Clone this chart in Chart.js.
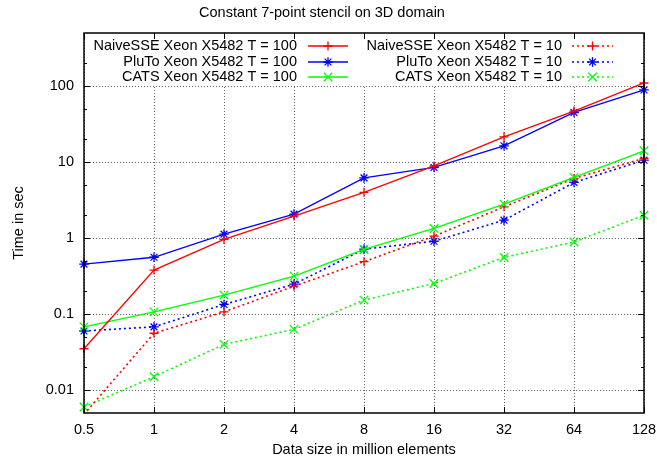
<!DOCTYPE html>
<html>
<head>
<meta charset="utf-8">
<script src="https://cdn.jsdelivr.net/npm/chart.js@4/dist/chart.umd.min.js"></script>
<style>html,body{margin:0;padding:0;background:#fff;}canvas{display:block;}</style>
</head>
<body>
<canvas id="c" width="657" height="460"></canvas>
<script>
const categories = ['0.5', '1', '2', '4', '8', '16', '32', '64', '128'];
const naiveT100 = [0.035, 0.38, 0.96, 1.95, 4.0, 8.9, 21.5, 47, 110];
const plutoT100 = [0.455, 0.56, 1.13, 2.07, 6.2, 8.5, 16.4, 45, 89];
const catsT100  = [0.068, 0.107, 0.178, 0.316, 0.71, 1.34, 2.8, 6.3, 14.1];
const naiveT10  = [0.0048, 0.056, 0.107, 0.233, 0.49, 1.06, 2.58, 6.1, 11.2];
const plutoT10  = [0.060, 0.068, 0.134, 0.248, 0.716, 0.91, 1.72, 5.4, 10.6];
const catsT10   = [0.006, 0.015, 0.040, 0.063, 0.153, 0.253, 0.557, 0.89, 2.0];
const yTicks = [0.01, 0.1, 1, 10, 100];
const yMinorTicks = [0.02, 0.05, 0.2, 0.5, 2, 5, 20, 50, 200];

const FONT = { family: "'Liberation Sans', Arial, Helvetica, sans-serif", size: 14.5 };
const RED = '#ff0000', BLUE = '#0000ff', GREEN = '#00ff00';
const DOT = [2, 3];

function ds(label, data, color, style, radius, dotted) {
  return {
    label, data,
    borderColor: color, backgroundColor: color,
    pointStyle: style, pointRadius: radius, pointHoverRadius: radius,
    pointBorderColor: color, pointBorderWidth: 1.3,
    borderWidth: dotted ? 1.6 : 1.3,
    borderDash: dotted ? DOT : [],
    tension: 0, fill: false
  };
}

const framePlugin = {
  id: 'gnuframe',
  beforeDatasetsDraw(chart) {
    const { ctx, chartArea: a } = chart;
    ctx.save();
    ctx.fillStyle = '#fff';
    ctx.fillRect(a.left + 1, a.top + 1, 540, 51);
    ctx.restore();
  },
  afterDatasetsDraw(chart) {
    const { ctx, chartArea: a } = chart;
    const xs = chart.scales.x, ys = chart.scales.y;
    ctx.save();
    // key
    const cols = [
      { tr: a.left + 213, l0: a.left + 224, l1: a.left + 264 },
      { tr: a.left + 478, l0: a.left + 488, l1: a.left + 529 }
    ];
    const rows = [a.top + 13, a.top + 29, a.top + 44];
    ctx.font = FONT.size + 'px ' + FONT.family;
    ctx.textAlign = 'right';
    ctx.textBaseline = 'middle';
    chart.data.datasets.forEach((d, i) => {
      const c = cols[Math.floor(i / 3)], y = rows[i % 3];
      ctx.fillStyle = '#000';
      ctx.fillText(d.label, c.tr, y);
      ctx.strokeStyle = d.borderColor;
      ctx.lineWidth = d.borderWidth;
      ctx.setLineDash(d.borderDash || []);
      ctx.beginPath();
      ctx.moveTo(c.l0, y); ctx.lineTo(c.l1, y);
      ctx.stroke();
      ctx.setLineDash([]);
      ctx.lineWidth = d.pointBorderWidth;
      if (Chart.helpers && Chart.helpers.drawPoint) {
        Chart.helpers.drawPoint(ctx, { pointStyle: d.pointStyle, radius: d.pointRadius, rotation: 0, borderWidth: d.pointBorderWidth }, (c.l0 + c.l1) / 2, y);
      }
    });
    // ticks
    ctx.strokeStyle = '#000';
    ctx.lineWidth = 1;
    ctx.beginPath();
    xs.ticks.forEach((t, i) => {
      const x = Math.round(xs.getPixelForTick(i)) + 0.5;
      ctx.moveTo(x, a.bottom); ctx.lineTo(x, a.bottom - 6);
      ctx.moveTo(x, a.top); ctx.lineTo(x, a.top + 6);
    });
    yTicks.forEach(v => {
      const y = Math.round(ys.getPixelForValue(v)) + 0.5;
      ctx.moveTo(a.left, y); ctx.lineTo(a.left + 6, y);
      ctx.moveTo(a.right, y); ctx.lineTo(a.right - 6, y);
    });
    yMinorTicks.forEach(v => {
      const y = Math.round(ys.getPixelForValue(v)) + 0.5;
      ctx.moveTo(a.left, y); ctx.lineTo(a.left + 3, y);
      ctx.moveTo(a.right, y); ctx.lineTo(a.right - 3, y);
    });
    ctx.stroke();
    // border box
    ctx.lineWidth = 1.5;
    ctx.strokeRect(a.left, a.top, a.right - a.left, a.bottom - a.top);
    ctx.restore();
  }
};

new Chart(document.getElementById('c'), {
  type: 'line',
  data: {
    labels: categories,
    datasets: [
      ds('NaiveSSE Xeon X5482 T = 100', naiveT100, RED, 'cross', 4.5, false),
      ds('PluTo Xeon X5482 T = 100', plutoT100, BLUE, 'star', 4.8, false),
      ds('CATS Xeon X5482 T = 100', catsT100, GREEN, 'crossRot', 6, false),
      ds('NaiveSSE Xeon X5482 T = 10', naiveT10, RED, 'cross', 4.5, true),
      ds('PluTo Xeon X5482 T = 10', plutoT10, BLUE, 'star', 4.8, true),
      ds('CATS Xeon X5482 T = 10', catsT10, GREEN, 'crossRot', 6, true)
    ]
  },
  options: {
    responsive: false,
    animation: false,
    devicePixelRatio: 1,
    layout: { padding: { left: 0, right: 13, top: 0, bottom: 0 } },
    plugins: {
      legend: { display: false },
      tooltip: { enabled: false },
      title: {
        display: true,
        text: 'Constant 7-point stencil on 3D domain',
        color: '#000',
        font: { family: FONT.family, size: FONT.size, weight: 'normal' },
        padding: { top: 4, bottom: 11.6 }
      }
    },
    scales: {
      x: {
        type: 'category',
        offset: false,
        afterFit: s => { s.height = 47; s.paddingLeft = 0; s.paddingRight = 0; },
        grid: { drawTicks: false, color: 'rgba(0,0,0,0.6)', lineWidth: 1 },
        border: { display: false, dash: [1, 2] },
        ticks: { color: '#000', font: FONT, padding: 8, maxRotation: 0, autoSkip: false },
        title: { display: true, text: 'Data size in million elements', color: '#000', font: FONT, padding: { top: 0, bottom: 1.5 } }
      },
      y: {
        type: 'logarithmic',
        min: 0.005,
        max: 500,
        afterBuildTicks: s => { s.ticks = yTicks.map(v => ({ value: v })); },
        afterFit: s => { s.width = 84; s.paddingTop = 0; s.paddingBottom = 0; },
        grid: { drawTicks: false, color: 'rgba(0,0,0,0.6)', lineWidth: 1 },
        border: { display: false, dash: [1, 2] },
        ticks: { color: '#000', font: FONT, padding: 10, callback: v => String(v) },
        title: { display: true, text: 'Time in sec', color: '#000', font: FONT, padding: { top: 10, bottom: 0 } }
      }
    }
  },
  plugins: [framePlugin]
});
</script>
</body>
</html>
